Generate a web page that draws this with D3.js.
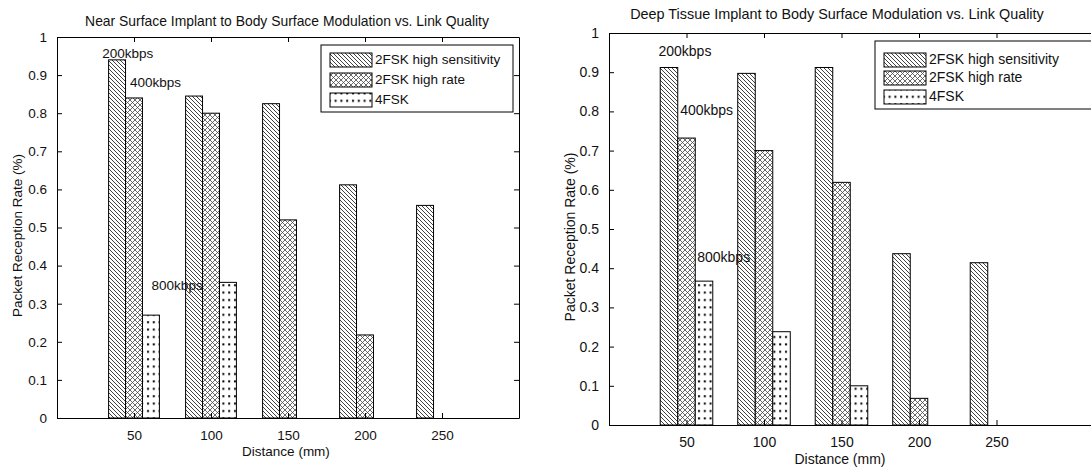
<!DOCTYPE html>
<html>
<head>
<meta charset="utf-8">
<script src="https://cdn.jsdelivr.net/npm/d3@7"></script>
<style>
  body { margin: 0; background: #fff; }
  svg text { font-family: Arial, "Liberation Sans", sans-serif; fill: #111; }
</style>
</head>
<body>
<svg id="chart" width="1091" height="467"></svg>
<script>
// shared categories / labels
const distances = [50, 100, 150, 200, 250];
const seriesNames = ["2FSK high sensitivity", "2FSK high rate", "4FSK"];
const yTicks = [0, 0.1, 0.2, 0.3, 0.4, 0.5, 0.6, 0.7, 0.8, 0.9, 1];
const rateLabels = ["200kbps", "400kbps", "800kbps"];

// near surface implant
const nearHighSens = [0.94, 0.845, 0.825, 0.612, 0.558];
const nearHighRate = [0.84, 0.80, 0.52, 0.218, 0];
const near4FSK = [0.27, 0.356, 0, 0, 0];
const nearLabelX = [46, 64, 78];
const nearLabelY = [0.955, 0.879, 0.346];

// deep tissue implant
const deepHighSens = [0.912, 0.897, 0.912, 0.437, 0.414];
const deepHighRate = [0.732, 0.70, 0.619, 0.068, 0];
const deep4FSK = [0.367, 0.238, 0.10, 0, 0];
const deepLabelX = [49, 63, 74];
const deepLabelY = [0.951, 0.80, 0.426];

const svg = d3.select("#chart");
const defs = svg.append("defs");

// hatch fills like the old matlab hatchfill
const hatch = defs.append("pattern").attr("id", "hatch")
  .attr("patternUnits", "userSpaceOnUse").attr("width", 4).attr("height", 4);
hatch.append("rect").attr("width", 4).attr("height", 4).attr("fill", "#fff");
hatch.append("path").attr("d", "M0,0L4,4M-1,3L1,5M3,-1L5,1")
  .attr("stroke", "#111").attr("stroke-width", 0.8);

const cross = defs.append("pattern").attr("id", "cross")
  .attr("patternUnits", "userSpaceOnUse").attr("width", 5).attr("height", 5);
cross.append("rect").attr("width", 5).attr("height", 5).attr("fill", "#fff");
cross.append("path").attr("d", "M0,0L5,5M-1,4L1,6M4,-1L6,1M0,5L5,0M-1,1L1,-1M4,6L6,4")
  .attr("stroke", "#444").attr("stroke-width", 0.8);

const dots = defs.append("pattern").attr("id", "dots")
  .attr("patternUnits", "userSpaceOnUse").attr("width", 5.8).attr("height", 7.4);
dots.append("rect").attr("width", 5.8).attr("height", 7.4).attr("fill", "#fff");
dots.append("rect").attr("x", 2).attr("y", 3).attr("width", 2).attr("height", 2).attr("fill", "#000");

const fills = ["url(#hatch)", "url(#cross)", "url(#dots)"];

function drawPanel(cfg) {
  const x = d3.scaleLinear().domain(cfg.xDomain).range(cfg.xRange);
  const y = d3.scaleLinear().domain([0, 1]).range(cfg.yRange);
  const g = svg.append("g");
  const [x0, x1] = cfg.xRange;
  const [yb, yt] = cfg.yRange;
  const fs = cfg.fontSize;

  const series = cfg.series;
  const barW = cfg.barW;
  series.forEach((vals, si) => {
    g.selectAll(null)
      .data(distances.map((d, i) => ({ d, v: vals[i] })).filter(o => o.v > 0))
      .join("rect")
      .attr("x", o => x(o.d - 1.5 * barW + si * barW))
      .attr("width", o => x(o.d - 0.5 * barW) - x(o.d - 1.5 * barW))
      .attr("y", o => y(o.v))
      .attr("height", o => y(0) - y(o.v))
      .attr("fill", fills[si])
      .attr("stroke", "#000")
      .attr("stroke-width", 1);
  });

  // axes, box style with inward ticks
  g.append("g").attr("transform", `translate(0,${yb})`)
    .call(d3.axisBottom(x).tickValues(distances).tickSizeInner(-5).tickSizeOuter(0).tickPadding(12))
    .call(a => a.selectAll("text").attr("font-size", fs).attr("fill", "#222"));
  g.append("g").attr("transform", `translate(0,${yt})`)
    .call(d3.axisTop(x).tickValues(distances).tickSizeInner(-5).tickSizeOuter(0).tickFormat(""));
  g.append("g").attr("transform", `translate(${x0},0)`)
    .call(d3.axisLeft(y).tickValues(yTicks).tickSizeInner(-5).tickSizeOuter(0).tickPadding(10).tickFormat(d3.format("")))
    .call(a => a.selectAll("text").attr("font-size", fs).attr("fill", "#222"));
  g.append("g").attr("transform", `translate(${x1},0)`)
    .call(d3.axisRight(y).tickValues(yTicks).tickSizeInner(-5).tickSizeOuter(0).tickFormat(""));
  g.selectAll(".domain").attr("stroke", "#000");
  g.selectAll(".tick line").attr("stroke", "#000");

  // rate annotations
  rateLabels.forEach((t, i) => {
    g.append("text").attr("x", x(cfg.labelX[i])).attr("y", y(cfg.labelY[i]))
      .attr("text-anchor", "middle").attr("dominant-baseline", "middle")
      .attr("font-size", fs).text(t);
  });

  // titles
  g.append("text").attr("x", cfg.titleX).attr("y", cfg.titleY)
    .attr("text-anchor", "middle").attr("font-size", cfg.titleSize).text(cfg.title);
  g.append("text").attr("x", (x0 + Math.min(x1, 1091)) / 2 + cfg.xLabelShift).attr("y", cfg.xLabelY)
    .attr("text-anchor", "middle").attr("font-size", fs).text("Distance (mm)");
  g.append("text")
    .attr("transform", `translate(${cfg.yLabelX},${(yb + yt) / 2 + 8}) rotate(-90)`)
    .attr("text-anchor", "middle").attr("font-size", fs).text("Packet Reception Rate (%)");

  // legend
  const lg = g.append("g").attr("transform", `translate(${cfg.legend[0]},${cfg.legend[1]})`);
  lg.append("rect").attr("width", cfg.legend[2]).attr("height", cfg.legend[3])
    .attr("fill", "#fff").attr("stroke", "#000");
  seriesNames.forEach((n, i) => {
    const cy = cfg.legendRows[i];
    lg.append("rect").attr("x", 9).attr("y", cy - 7).attr("width", 42).attr("height", 14)
      .attr("fill", fills[i]).attr("stroke", "#000");
    lg.append("text").attr("x", 54).attr("y", cy).attr("dominant-baseline", "middle")
      .attr("font-size", fs).text(n);
  });
}

drawPanel({
  title: "Near Surface Implant to Body Surface Modulation vs. Link Quality",
  series: [nearHighSens, nearHighRate, near4FSK],
  labelX: nearLabelX, labelY: nearLabelY,
  xDomain: [0, 300], xRange: [57, 519], yRange: [418, 37],
  barW: 11, fontSize: 13.5, titleSize: 13.9,
  titleX: 287, titleY: 26, xLabelY: 456, xLabelShift: -2, yLabelX: 22,
  legend: [321, 45, 192, 67], legendRows: [15, 35, 55]
});

drawPanel({
  title: "Deep Tissue Implant to Body Surface Modulation vs. Link Quality",
  series: [deepHighSens, deepHighRate, deep4FSK],
  labelX: deepLabelX, labelY: deepLabelY,
  xDomain: [0, 320], xRange: [609, 1105], yRange: [425, 33],
  barW: 11.3, fontSize: 14, titleSize: 14.4,
  titleX: 837, titleY: 19, xLabelY: 464, xLabelShift: -10, yLabelX: 575,
  legend: [875, 41, 222, 68], legendRows: [19, 37, 56]
});
</script>
</body>
</html>
